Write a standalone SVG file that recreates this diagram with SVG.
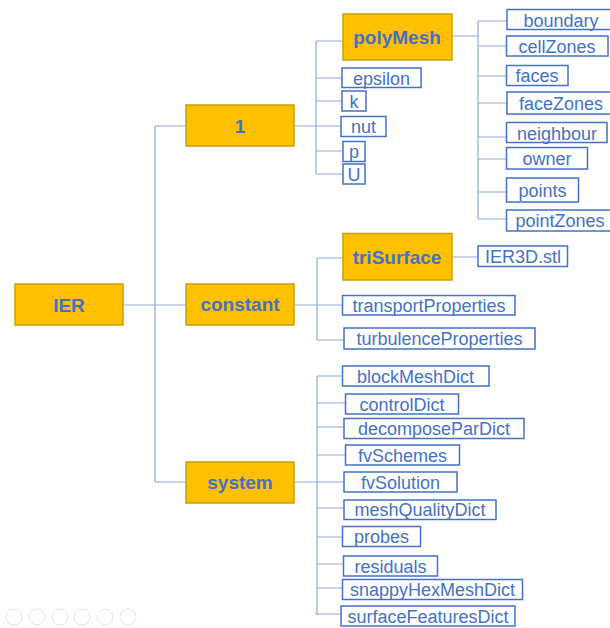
<svg xmlns="http://www.w3.org/2000/svg" width="610" height="628" viewBox="0 0 610 628">
<style>
.o{fill:#FFC000;stroke:#C9A00A;stroke-width:1.5}
.w{fill:#FFFFFF;stroke:#4472C4;stroke-width:1.5}
.bt{font-family:"Liberation Sans",Arial,sans-serif;font-weight:bold;font-size:19px;fill:#4472C4;text-anchor:middle}
.t{font-family:"Liberation Sans",Arial,sans-serif;font-size:18px;fill:#4472C4;text-anchor:middle}
.c{fill:none;stroke:#8EA9DB;stroke-width:1.2}
.ic{fill:none;stroke:#E4E4E4;stroke-width:1}
</style>
<rect width="610" height="628" fill="#FFFFFF"/>
<g id="connectors">
<path class="c" d="M123,305H186M155,126V482M155,126H186M155,482H186"/>
<path class="c" d="M294,126H341M316,41V174M316,41H343M316,78H342M316,101H342M316,151H343M316,174H343"/>
<path class="c" d="M452,36H478M478,21V219M478,21H507M478,46H506M478,76H506M478,103H507M478,137H506M478,159H506M478,192H506M478,219H506"/>
<path class="c" d="M452,257H478M294,305H343M317,258V340M317,258H343M317,340H344"/>
<path class="c" d="M294,482H344M317,376V614M317,376H342M317,403H345M317,427H344M317,455H346M317,508H344M317,537H343M317,564H343M317,588H342M315,614H341"/>
</g>
<g id="IER"><rect class="o" x="15" y="284" width="108" height="41"/><text class="bt" x="69" y="312">IER</text></g>
<g id="n1"><rect class="o" x="186" y="105" width="108" height="41"/><text class="bt" x="240" y="133">1</text></g>
<g id="constant"><rect class="o" x="186" y="284" width="108" height="41"/><text class="bt" x="240" y="311">constant</text></g>
<g id="system"><rect class="o" x="186" y="462" width="108" height="41"/><text class="bt" x="240" y="489">system</text></g>
<g id="polyMesh"><rect class="o" x="343" y="14" width="109" height="46"/><text class="bt" x="397" y="44">polyMesh</text></g>
<g id="epsilon"><rect class="w" x="342" y="68" width="79" height="19.5"/><text class="t" x="381.5" y="84.5">epsilon</text></g>
<g id="k"><rect class="w" x="342" y="91" width="24" height="20"/><text class="t" x="354" y="107.5">k</text></g>
<g id="nut"><rect class="w" x="341" y="116.5" width="45" height="20"/><text class="t" x="363.5" y="132.5">nut</text></g>
<g id="p"><rect class="w" x="343" y="141.5" width="22" height="20"/><text class="t" x="354" y="157.5">p</text></g>
<g id="U"><rect class="w" x="343" y="164" width="22" height="20"/><text class="t" x="354" y="180.5">U</text></g>
<g id="boundary"><rect class="w" x="507" y="9.5" width="106" height="20"/><text class="t" x="561" y="26.5">boundary</text></g>
<g id="cellZones"><rect class="w" x="506.5" y="36" width="101.5" height="20"/><text class="t" x="557" y="52.5">cellZones</text></g>
<g id="faces"><rect class="w" x="506.5" y="65.5" width="61.5" height="20"/><text class="t" x="537" y="81.5">faces</text></g>
<g id="faceZones"><rect class="w" x="507" y="92" width="106" height="22"/><text class="t" x="561" y="109.5">faceZones</text></g>
<g id="neighbour"><rect class="w" x="506.5" y="122.5" width="100.5" height="20"/><text class="t" x="557" y="139.5">neighbour</text></g>
<g id="owner"><rect class="w" x="506.5" y="147.5" width="81" height="21.5"/><text class="t" x="547" y="164.5">owner</text></g>
<g id="points"><rect class="w" x="506.5" y="178" width="72" height="24"/><text class="t" x="542.5" y="196.5">points</text></g>
<g id="pointZones"><rect class="w" x="506.5" y="210" width="106" height="21"/><text class="t" x="560" y="226.5">pointZones</text></g>
<g id="triSurface"><rect class="o" x="343" y="233.5" width="109" height="46.5"/><text class="bt" x="397" y="264">triSurface</text></g>
<g id="IER3D"><rect class="w" x="478" y="246" width="89.5" height="20.5"/><text class="t" x="523" y="262.5">IER3D.stl</text></g>
<g id="transportProperties"><rect class="w" x="342.5" y="295.5" width="172.5" height="19.5"/><text class="t" x="429" y="311.5">transportProperties</text></g>
<g id="turbulenceProperties"><rect class="w" x="344" y="328" width="191" height="21"/><text class="t" x="439.5" y="344.5">turbulenceProperties</text></g>
<g id="blockMeshDict"><rect class="w" x="342.5" y="366" width="146.5" height="20"/><text class="t" x="415.5" y="382.5">blockMeshDict</text></g>
<g id="controlDict"><rect class="w" x="345.5" y="394" width="113" height="20"/><text class="t" x="402" y="410.5">controlDict</text></g>
<g id="decomposeParDict"><rect class="w" x="344" y="418.5" width="180" height="20"/><text class="t" x="434" y="435">decomposeParDict</text></g>
<g id="fvSchemes"><rect class="w" x="345.5" y="445" width="114" height="20"/><text class="t" x="402.5" y="461.5">fvSchemes</text></g>
<g id="fvSolution"><rect class="w" x="344" y="472" width="113" height="20"/><text class="t" x="400.5" y="488.5">fvSolution</text></g>
<g id="meshQualityDict"><rect class="w" x="344" y="500" width="152" height="19.5"/><text class="t" x="420" y="516">meshQualityDict</text></g>
<g id="probes"><rect class="w" x="342.5" y="526.5" width="78" height="20"/><text class="t" x="381.5" y="543">probes</text></g>
<g id="residuals"><rect class="w" x="343.5" y="556" width="94" height="20"/><text class="t" x="390.5" y="572.5">residuals</text></g>
<g id="snappyHexMeshDict"><rect class="w" x="342.5" y="579.5" width="180" height="20"/><text class="t" x="432.5" y="596">snappyHexMeshDict</text></g>
<g id="surfaceFeaturesDict"><rect class="w" x="341" y="606" width="174" height="20"/><text class="t" x="428" y="622.5">surfaceFeaturesDict</text></g>
<g id="controls">
<circle class="ic" cx="14" cy="617" r="8"/><circle class="ic" cx="37" cy="617" r="8"/><circle class="ic" cx="60" cy="617" r="8"/><circle class="ic" cx="82" cy="617" r="8"/><circle class="ic" cx="105" cy="617" r="8"/><circle class="ic" cx="128" cy="617" r="8"/>
</g>
</svg>
